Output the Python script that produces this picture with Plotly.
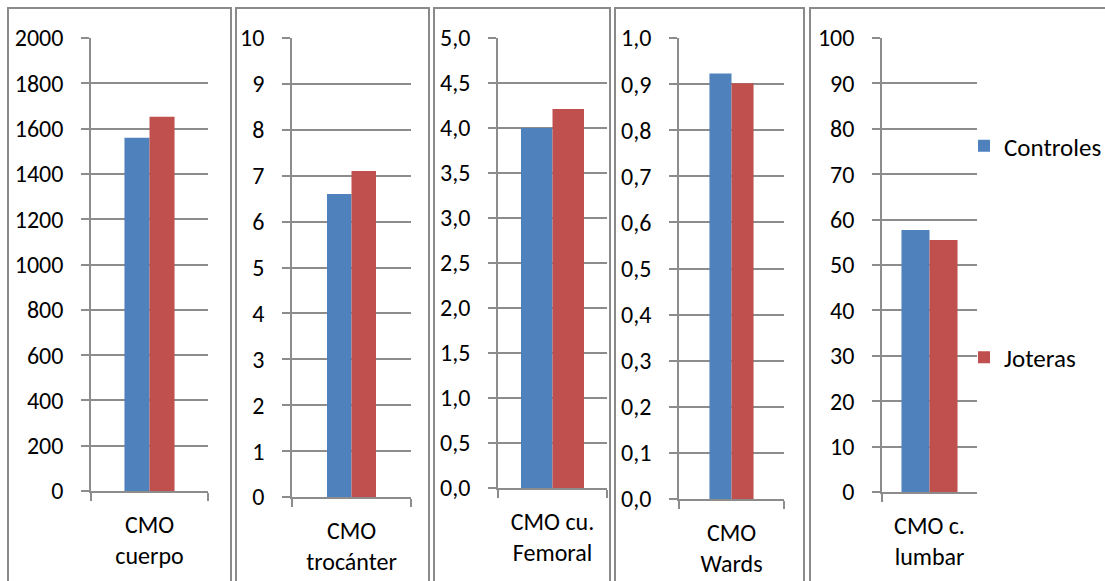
import plotly.graph_objects as go

# Bone mineral content (CMO) by site: controls vs. jota dancers
categories = ["CMO<br>cuerpo", "CMO<br>trocánter", "CMO cu.<br>Femoral", "CMO<br>Wards", "CMO c.<br>lumbar"]
controles = [1560, 6.6, 4.0, 0.923, 57.7]
joteras = [1652, 7.1, 4.21, 0.902, 55.5]

y_max = [2000, 10, 5.0, 1.0, 100]
y_step = [200, 1, 0.5, 0.1, 10]
tick_labels = [
    ["0", "200", "400", "600", "800", "1000", "1200", "1400", "1600", "1800", "2000"],
    ["0", "1", "2", "3", "4", "5", "6", "7", "8", "9", "10"],
    ["0,0", "0,5", "1,0", "1,5", "2,0", "2,5", "3,0", "3,5", "4,0", "4,5", "5,0"],
    ["0,0", "0,1", "0,2", "0,3", "0,4", "0,5", "0,6", "0,7", "0,8", "0,9", "1,0"],
    ["0", "10", "20", "30", "40", "50", "60", "70", "80", "90", "100"],
]

W, H = 1105, 581
BLUE = "#4F81BD"
RED = "#C0504D"
GRID = "#8C8C8C"
FONT = "Carlito, Lato, sans-serif"
FS = 24

# pixel layout of each small chart: plot area (left, right, top, bottom), frame (left, right)
# and bar width as a fraction of the category slot
plot_px = [(91, 208, 38, 491), (292, 411, 38, 497), (498, 607, 38, 488),
           (679, 784, 38, 499), (882, 977, 38, 492)]
frame_px = [(8, 231), (236, 429), (434, 610), (615, 804), (810, 1110)]
bar_w = [0.214, 0.206, 0.289, 0.21, 0.295]

fig = go.Figure()

for i in range(5):
    sfx = "" if i == 0 else str(i + 1)
    xa, ya = "x" + sfx, "y" + sfx
    w = bar_w[i]
    fig.add_trace(go.Bar(x=[categories[i]], y=[controles[i]], name="Controles",
                         marker=dict(color=BLUE, line=dict(width=0)),
                         width=w, offset=-w, xaxis=xa, yaxis=ya,
                         legendgroup="c", showlegend=(i == 4)))
    fig.add_trace(go.Bar(x=[categories[i]], y=[joteras[i]], name="Joteras",
                         marker=dict(color=RED, line=dict(width=0)),
                         width=w, offset=0, xaxis=xa, yaxis=ya,
                         legendgroup="j", showlegend=(i == 4)))

    l, r, t, b = plot_px[i]
    tickvals = [k * y_step[i] for k in range(len(tick_labels[i]))]
    fig.layout["xaxis" + sfx] = dict(
        domain=[l / W, r / W], anchor=ya, type="category", automargin=False,
        tickson="boundaries", ticks="outside", ticklen=8, tickcolor=GRID, tickwidth=1.5,
        showline=True, linecolor=GRID, linewidth=1.5, showgrid=False,
        ticklabelstandoff=11,
        tickfont=dict(family=FONT, size=FS, color="#000"), fixedrange=True,
    )
    fig.layout["yaxis" + sfx] = dict(
        domain=[1 - b / H, 1 - t / H], anchor=xa, range=[0, y_max[i]], automargin=False,
        tickvals=tickvals, ticktext=tick_labels[i],
        ticks="outside", ticklen=8, tickcolor=GRID, tickwidth=1.5,
        showline=True, linecolor=GRID, linewidth=1.5,
        showgrid=True, gridcolor=GRID, gridwidth=1.5, zeroline=False,
        ticklabelstandoff=13,
        tickfont=dict(family=FONT, size=FS, color="#000"), fixedrange=True,
    )

    fl, fr = frame_px[i]
    fig.add_shape(type="rect", xref="paper", yref="paper",
                  x0=fl / W, x1=fr / W, y0=-0.2, y1=1 - 8 / H,
                  line=dict(color="#8A8A8A", width=2), layer="below")

fig.update_layout(
    template="none",
    width=W, height=H,
    margin=dict(l=0, r=0, t=0, b=0, autoexpand=False),
    paper_bgcolor="white", plot_bgcolor="white",
    barmode="overlay",
    font=dict(family=FONT, size=FS, color="#000"),
    legend=dict(x=964 / W, y=1 - 123 / H, xanchor="left", yanchor="top",
                traceorder="grouped", tracegroupgap=176,
                bgcolor="rgba(0,0,0,0)", font=dict(family=FONT, size=25)),
)

fig.write_html("out.html")
